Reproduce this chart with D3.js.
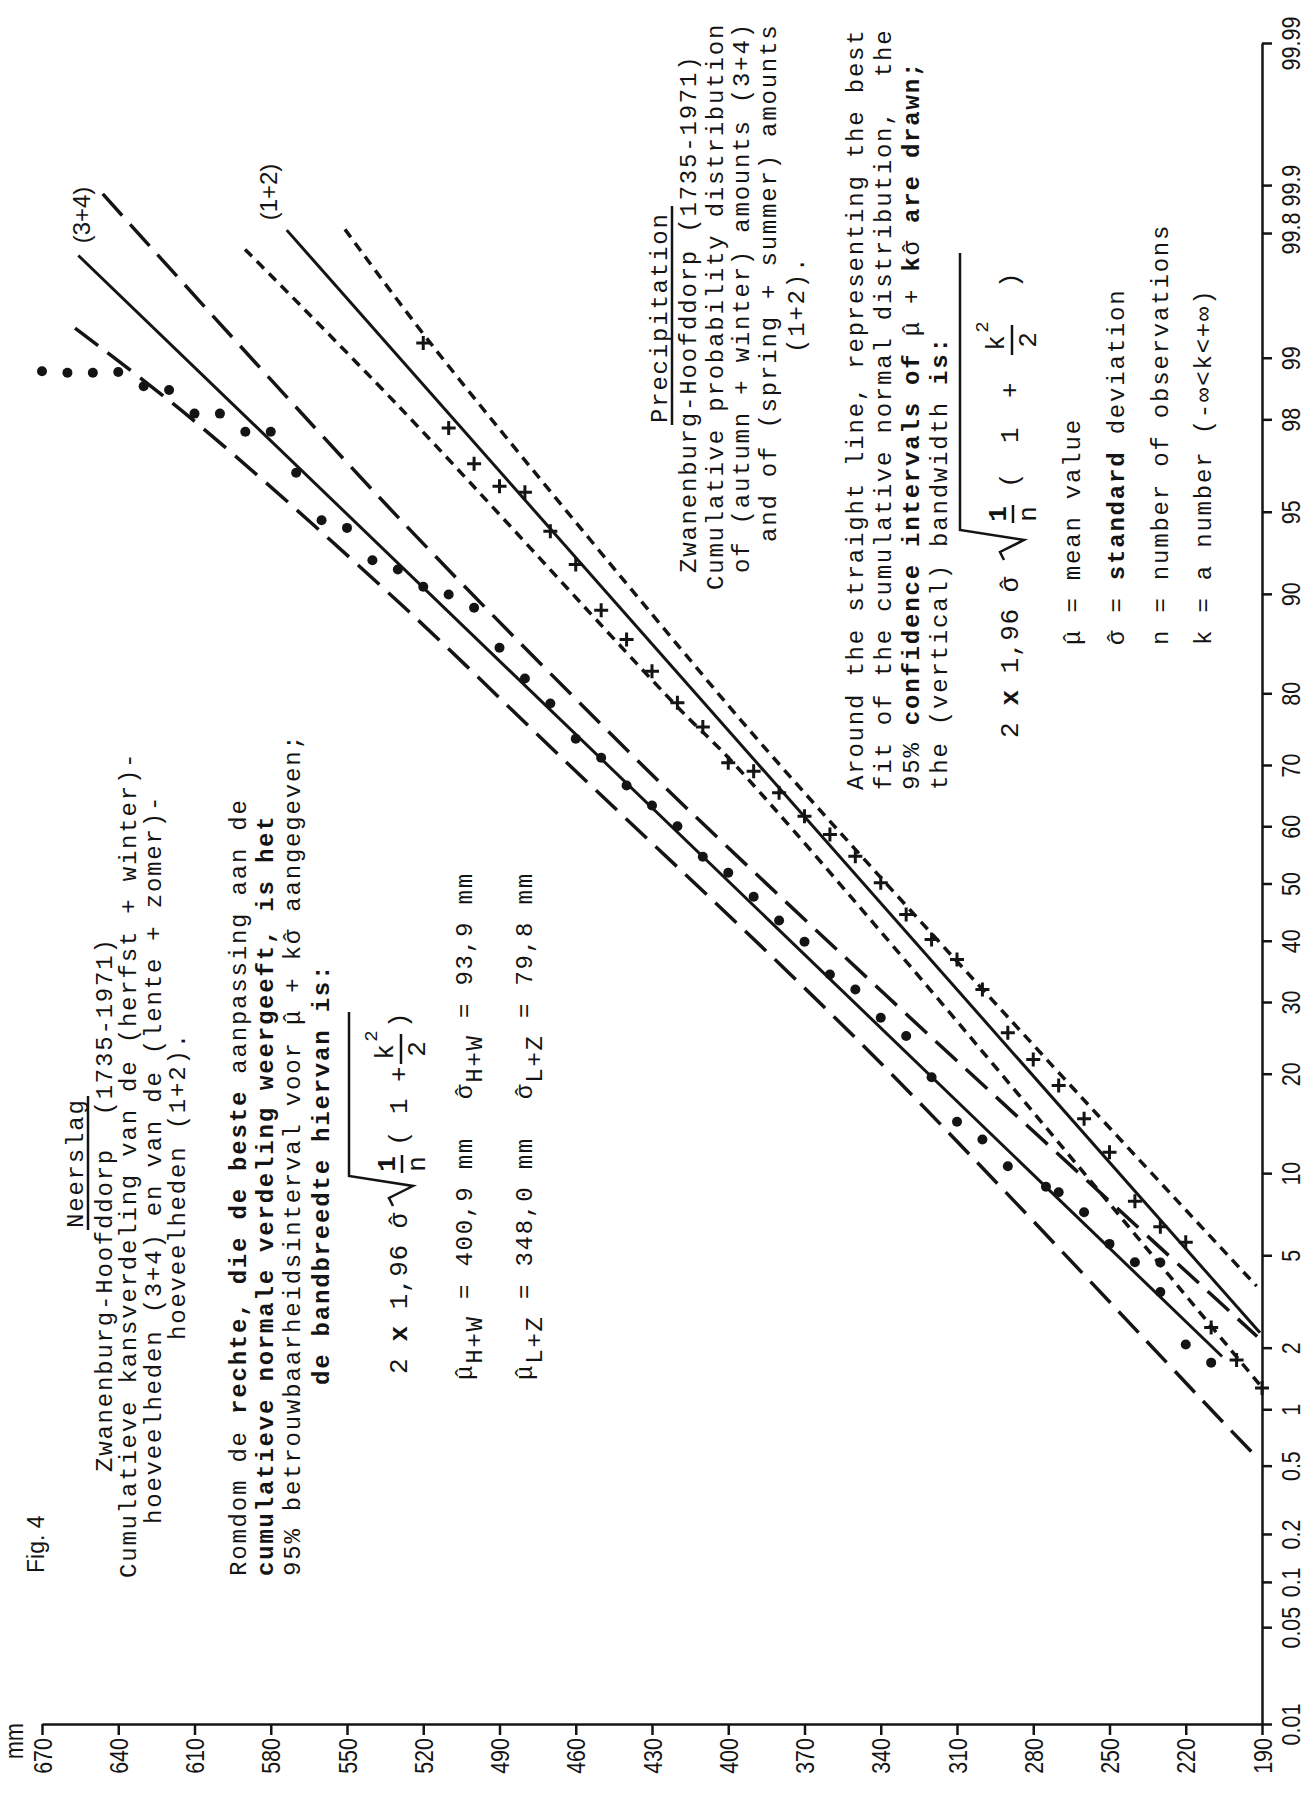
<!DOCTYPE html>
<html lang="en">
<head>
<meta charset="UTF-8">
<title>Fig. 4</title>
<script src="https://d3js.org/d3.v7.min.js"></script>
<style>
  body { margin: 0; background: #fff; }
  svg { display: block; }
</style>
</head>
<body>
<script>
  // right axis: cumulative probability (%)
  const probTicks = [0.01, 0.05, 0.1, 0.2, 0.5, 1, 2, 5, 10, 20, 30, 40, 50, 60, 70, 80, 90, 95, 98, 99, 99.8, 99.9, 99.99];
  const probLabels = ["0.01", "0.05", "0.1", "0.2", "0.5", "1", "2", "5", "10", "20", "30", "40", "50", "60", "70", "80", "90", "95", "98", "99", "99.8", "99.9", "99.99"];
  // bottom axis: mm
  const mmTicks = [670, 640, 610, 580, 550, 520, 490, 460, 430, 400, 370, 340, 310, 280, 250, 220, 190];

  // (3+4) herfst + winter -> dots
  const dotsMM = [670, 660, 650, 640, 630, 620, 610, 600, 590, 580, 570, 560, 550, 540, 530, 520, 510, 500, 490, 480, 470, 460, 450, 440, 430,
    420, 410, 400, 390, 380, 370, 360, 350, 340, 330, 320, 310, 300, 290, 275, 270, 260, 250, 240, 230, 230, 220, 210];
  const dotsP = [98.83, 98.81, 98.81, 98.82, 98.61, 98.55, 98.12, 98.12, 97.72, 97.72, 96.54, 94.60, 94.22, 92.37, 91.76, 90.54, 89.95, 88.88, 85.15, 81.78, 78.71, 73.90, 71.10, 66.77, 63.50,
    60.01, 54.70, 51.89, 47.65, 43.50, 39.82, 34.36, 31.95, 27.62, 24.99, 19.57, 14.59, 12.87, 10.55, 8.98, 8.60, 7.29, 5.54, 4.69, 4.68, 3.53, 2.07, 1.70];

  // (1+2) lente + zomer -> crosses
  const crossMM = [520, 510, 500, 490, 480, 470, 460, 450, 440, 430, 420, 410, 400, 390, 380, 370, 360, 350, 340, 330, 320, 310, 300, 290, 280, 270, 260, 250, 240, 230, 220, 210, 200, 190];
  const crossP = [99.16, 97.81, 96.84, 96.06, 95.83, 94.05, 92.10, 88.67, 85.99, 82.62, 78.80, 75.57, 70.34, 69.04, 65.59, 61.71, 58.58, 54.81, 50.12, 44.54, 40.21, 36.83, 31.95, 25.44, 21.80, 18.57, 14.89, 11.72, 7.99, 6.44, 5.62, 2.47, 1.75, 1.28];

  // fitted lines and 95% bands, points as [mm, %]
  const fit34 = [[655.7, 99.727], [205.7, 1.818]];
  const band34hi = [[657.0, 99.30], [611.8, 98.04], [529.1, 89.23], [466.2, 71.34], [344.2, 22.73], [202.6, 0.785], [192.0, 0.555]];
  const band34lo = [[646.1, 99.886], [529.1, 94.64], [437.4, 71.34], [415.0, 62.50], [339.0, 31.43], [191.9, 2.25]];
  const fit12 = [[573.7, 99.808], [190.8, 2.34]];
  const band12hi = [[590.1, 99.749], [529.1, 98.235], [419.0, 77.93], [399.3, 70.84], [320.6, 31.95], [190.0, 1.287]];
  const band12lo = [[550.8, 99.81], [516.2, 99.128], [419.0, 85.15], [381.6, 70.84], [274.7, 21.80], [192.1, 3.74]];

  const W = 1311, H = 1798;
  const ink = "#141414";
  const monoFont = "'Liberation Mono', 'DejaVu Sans Mono', monospace";
  const sansFont = "'Liberation Sans', Arial, sans-serif";
  const monoSize = 24, monoGap = 1.8;       // typewriter: small face on a wide pitch
  const adv = monoSize * 0.6 + monoGap;
  const squeeze = 0.86; // tick labels are a narrow face

  // inverse normal cdf (Acklam), used for the probability paper scale
  function probit(p) {
    const a = [-3.969683028665376e+01, 2.209460984245205e+02, -2.759285104469687e+02, 1.383577518672690e+02, -3.066479806614716e+01, 2.506628277459239e+00];
    const b = [-5.447609879822406e+01, 1.615858368580409e+02, -1.556989798598866e+02, 6.680131188771972e+01, -1.328068155288572e+01];
    const c = [-7.784894002430293e-03, -3.223964580411365e-01, -2.400758277161838e+00, -2.549732539343734e+00, 4.374664141464968e+00, 2.938163982698783e+00];
    const d = [7.784695709041462e-03, 3.224671290700398e-01, 2.445134137142996e+00, 3.754408661907416e+00];
    const pl = 0.02425;
    let q, r;
    if (p < pl) {
      q = Math.sqrt(-2 * Math.log(p));
      return (((((c[0] * q + c[1]) * q + c[2]) * q + c[3]) * q + c[4]) * q + c[5]) / ((((d[0] * q + d[1]) * q + d[2]) * q + d[3]) * q + 1);
    }
    if (p > 1 - pl) {
      q = Math.sqrt(-2 * Math.log(1 - p));
      return -(((((c[0] * q + c[1]) * q + c[2]) * q + c[3]) * q + c[4]) * q + c[5]) / ((((d[0] * q + d[1]) * q + d[2]) * q + d[3]) * q + 1);
    }
    q = p - 0.5; r = q * q;
    return (((((a[0] * r + a[1]) * r + a[2]) * r + a[3]) * r + a[4]) * r + a[5]) * q / (((((b[0] * r + b[1]) * r + b[2]) * r + b[3]) * r + b[4]) * r + 1);
  }

  const svg = d3.select("body").append("svg")
      .attr("width", W)
      .attr("height", H)
      .style("background", "#fff");

  const x = d3.scaleLinear().domain([670, 190]).range([42, 1262]);
  const z = d3.scaleLinear().domain([probit(0.0001), probit(0.9999)]).range([1724, 43]);
  const yP = p => z(probit(p / 100));

  // bottom axis (mm)
  const xAxis = svg.append("g")
      .attr("transform", `translate(0,${yP(0.01)})`)
      .call(d3.axisBottom(x).tickValues(mmTicks).tickSize(11).tickSizeOuter(0));
  xAxis.selectAll("text")
      .attr("transform", `rotate(-90) scale(${squeeze},1)`)
      .attr("x", -14 / squeeze).attr("y", 0).attr("dy", "0.36em")
      .attr("text-anchor", "end");

  // right axis (probability)
  const yAxis = svg.append("g")
      .attr("transform", `translate(${x(190)},0)`)
      .call(d3.axisRight(z)
          .tickValues(probTicks.map(p => probit(p / 100)))
          .tickFormat((d, i) => probLabels[i])
          .tickSize(10).tickSizeOuter(0));
  yAxis.selectAll("text")
      .attr("transform", `rotate(-90) scale(${squeeze},1)`)
      .attr("x", 0).attr("y", 29).attr("dy", "0.36em")
      .attr("text-anchor", "middle");

  [xAxis, yAxis].forEach(g => {
    g.attr("font-family", sansFont).attr("font-size", 25);
    g.selectAll("text").attr("fill", ink);
    g.selectAll("path, line").attr("stroke", ink).attr("stroke-width", 2.5);
  });

  svg.append("text")
      .attr("transform", `translate(23,1759) rotate(-90) scale(${squeeze},1)`)
      .attr("font-family", sansFont).attr("font-size", 25).attr("fill", ink)
      .text("mm");

  // lines
  const line = d3.line()
      .x(d => x(d[0]))
      .y(d => yP(d[1]))
      .curve(d3.curveCatmullRom.alpha(0.5));

  const plot = svg.append("g").attr("fill", "none").attr("stroke", ink);
  plot.append("path").attr("d", line(fit34)).attr("stroke-width", 3);
  plot.append("path").attr("d", line(band34hi)).attr("stroke-width", 3.5).attr("stroke-dasharray", "29 12");
  plot.append("path").attr("d", line(band34lo)).attr("stroke-width", 3.5).attr("stroke-dasharray", "29 12");
  plot.append("path").attr("d", line(fit12)).attr("stroke-width", 3);
  plot.append("path").attr("d", line(band12hi)).attr("stroke-width", 3.5).attr("stroke-dasharray", "10 7");
  plot.append("path").attr("d", line(band12lo)).attr("stroke-width", 3.5).attr("stroke-dasharray", "10 7");

  // dots (3+4)
  svg.append("g").selectAll("circle")
      .data(dotsMM.map((m, i) => [m, dotsP[i]]))
      .enter().append("circle")
      .attr("cx", d => x(d[0]))
      .attr("cy", d => yP(d[1]))
      .attr("r", 5)
      .attr("fill", ink);

  // crosses (1+2)
  svg.append("g").selectAll("path")
      .data(crossMM.map((m, i) => [m, crossP[i]]))
      .enter().append("path")
      .attr("transform", d => `translate(${x(d[0])},${yP(d[1])})`)
      .attr("d", "M-7,0H7M0,-7V7")
      .attr("stroke", ink)
      .attr("stroke-width", 3);

  // curve labels
  [["(3+4)", 90, 215], ["(1+2)", 277, 192]].forEach(l => {
    svg.append("text")
        .attr("transform", `translate(${l[1]},${l[2]}) rotate(-90)`)
        .attr("text-anchor", "middle")
        .attr("font-family", sansFont).attr("font-size", 24).attr("fill", ink)
        .text(l[0]);
  });

  // rotated typewriter text, bx = baseline x, y = where the line starts
  function vtext(bx, y, parts, mono = true) {
    const t = svg.append("text")
        .attr("transform", `translate(${bx},${y}) rotate(-90)`)
        .attr("fill", ink)
        .style("white-space", "pre");
    if (mono) t.attr("font-family", monoFont).attr("font-size", monoSize).attr("letter-spacing", monoGap);
    else t.attr("font-family", sansFont).attr("font-size", 23);
    parts.forEach(p => {
      if (typeof p === "string") p = {t: p};
      const s = t.append("tspan").text(p.t);
      if (p.b) s.attr("font-weight", "bold");
      if (p.dx) s.attr("dx", p.dx);
      if (p.dy) s.attr("dy", p.dy);
    });
    return t;
  }
  const hat = {t: "ˆ", dx: -adv};

  function underline(bx, y1, y2) {
    svg.append("line").attr("x1", bx).attr("x2", bx).attr("y1", y1).attr("y2", y2)
        .attr("stroke", ink).attr("stroke-width", 2.5);
  }

  // 2 x 1,96 sigma sqrt(1/n (1 + k^2/2)), o = offsets along the line
  function formula(bx, y0, o) {
    const f = svg.append("g")
        .attr("transform", `translate(${bx},${y0}) rotate(-90)`)
        .attr("font-family", monoFont).attr("font-size", 26).attr("fill", ink)
        .style("white-space", "pre");
    const t = f.append("text").attr("letter-spacing", 16.2 - 26 * 0.6);
    t.append("tspan").text("2 ");
    t.append("tspan").attr("font-weight", "bold").text("x");
    t.append("tspan").text(" 1,96 σ");
    t.append("tspan").attr("dx", -16.2).text("ˆ");
    f.append("path")
        .attr("d", `M${o.hook},-14 L${o.hook + 8},-18 L${o.hook + 20},6 L${o.hook + 30},-58 H${o.end}`)
        .attr("fill", "none").attr("stroke", ink).attr("stroke-width", 2.5);
    f.append("text").attr("x", o.frac).attr("y", -12).attr("text-anchor", "middle").attr("font-weight", "bold").text("1");
    f.append("line").attr("x1", o.frac - 9).attr("x2", o.frac + 9).attr("y1", -5).attr("y2", -5).attr("stroke", ink).attr("stroke-width", 2.5);
    f.append("text").attr("x", o.frac).attr("y", 18).attr("text-anchor", "middle").text("n");
    f.append("text").attr("x", o.open).attr("y", 0).text("(");
    f.append("text").attr("x", o.one).attr("y", 0).text("1");
    f.append("text").attr("x", o.plus).attr("y", 0).text("+");
    f.append("text").attr("x", o.k).attr("y", -14).attr("text-anchor", "middle").text("k");
    f.append("text").attr("x", o.k + 16).attr("y", -30).attr("text-anchor", "middle").attr("font-size", 19).text("2");
    f.append("line").attr("x1", o.k - 12).attr("x2", o.k + 18).attr("y1", -6).attr("y2", -6).attr("stroke", ink).attr("stroke-width", 2.5);
    f.append("text").attr("x", o.k + 3).attr("y", 18).attr("text-anchor", "middle").text("2");
    f.append("text").attr("x", o.close).attr("y", 0).text(")");
  }

  // Dutch block
  vtext(44, 1573, ["Fig. 4"], false);
  vtext(83, 1228, ["Neerslag"]);
  underline(88, 1230, 1096);
  vtext(112, 1472, ["Zwanenburg-Hoofddorp  (1735-1971)"]);
  vtext(136, 1578, ["Cumulatieve kansverdeling van de (herfst + winter)-"]);
  vtext(161, 1524, ["hoeveelheden (3+4) en van de (lente + zomer)-"]);
  vtext(185, 1340, ["hoeveelheden (1+2)."]);
  vtext(246, 1576, ["Romdom de ", {t: "rechte, die de beste", b: 1}, " aanpassing aan de"]);
  vtext(273, 1576, [{t: "cumulatieve normale verdeling weergeeft, is het", b: 1}]);
  vtext(300, 1576, ["95% betrouwbaarheidsinterval voor μ", hat, " + kσ", hat, " aangegeven;"]);
  vtext(329, 1385, [{t: "de bandbreedte hiervan is:", b: 1}]);
  formula(407, 1374, {hook: 168, end: 362, frac: 210, open: 228, one: 260, plus: 292, k: 322, close: 346});
  vtext(472, 1380, ["μ", hat, {t: "H+W", dy: 10}, {t: " = 400,9 mm", dy: -10}]);
  vtext(472, 1099, ["σ", hat, {t: "H+W", dy: 10}, {t: " = 93,9 mm", dy: -10}]);
  vtext(532, 1380, ["μ", hat, {t: "L+Z", dy: 10}, {t: " = 348,0 mm", dy: -10}]);
  vtext(532, 1099, ["σ", hat, {t: "L+Z", dy: 10}, {t: " = 79,8 mm", dy: -10}]);

  // English block
  vtext(667, 423, ["Precipitation"]);
  underline(672, 425, 206);
  vtext(696, 573, ["Zwanenburg-Hoofddorp (1735-1971)"]);
  vtext(723, 590, ["Cumulative probability distribution"]);
  vtext(749, 573, ["of (autumn + winter) amounts (3+4)"]);
  vtext(776, 542, ["and of (spring + summer) amounts"]);
  vtext(804, 353, ["(1+2)."]);
  vtext(863, 790, ["Around the straight line, representing the best"]);
  vtext(891, 790, ["fit of the cumulative normal distribution,  the"]);
  vtext(919, 790, ["95% ", {t: "confidence intervals of", b: 1}, " μ", hat, " + ", {t: "k", b: 1}, "σ", hat, " ", {t: "are drawn;", b: 1}]);
  vtext(947, 790, ["the (vertical) bandwidth ", {t: "is:", b: 1}]);
  formula(1018, 738, {hook: 178, end: 485, frac: 224, open: 250, one: 295, plus: 340, k: 395, close: 450});
  vtext(1080, 645, ["μ", hat, " = mean value"]);
  vtext(1124, 645, ["σ", hat, " = ", {t: "standard", b: 1}, " deviation"]);
  vtext(1168, 645, ["n = number of observations"]);
  vtext(1211, 645, ["k = a number (-∞<k<+∞)"]);
</script>
</body>
</html>
